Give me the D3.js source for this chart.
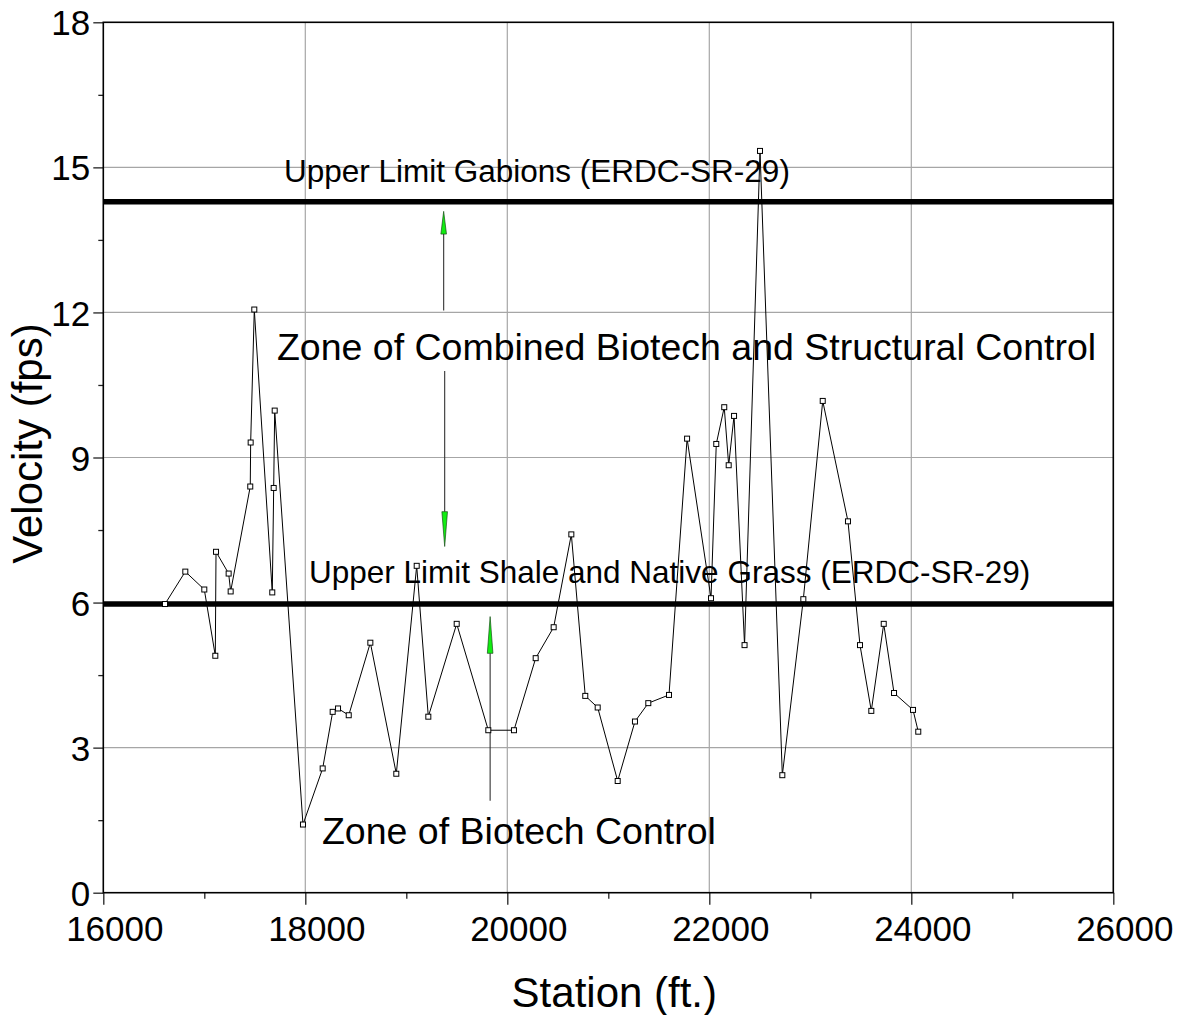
<!DOCTYPE html>
<html>
<head>
<meta charset="utf-8">
<script src="https://d3js.org/d3.v7.min.js"></script>
<style>
  body { margin: 0; background: #fff; }
  text { font-family: "Liberation Sans", Arial, Helvetica, sans-serif; fill: #000; }
</style>
</head>
<body>
<div id="vis"></div>
<script>
// station (ft.) and velocity (fps)
var stations = [16611, 16812, 17000, 17109, 17116, 17241, 17261, 17455, 17459, 17495,
  17673, 17687, 17697, 17977, 18172, 18271, 18324, 18430, 18644, 18901,
  19103, 19218, 19499, 19812, 20066, 20281, 20459, 20634, 20772, 20895,
  21093, 21264, 21396, 21601, 21780, 22017, 22069, 22148, 22192, 22245,
  22349, 22502, 22723, 22931, 23123, 23373, 23492, 23604, 23727, 23829,
  24017, 24069];
var velocities = [5.97, 6.64, 6.27, 4.90, 7.05, 6.60, 6.23, 8.40, 9.31, 12.06,
  6.21, 8.37, 9.97, 1.41, 2.57, 3.74, 3.81, 3.67, 5.17, 2.46,
  6.76, 3.64, 5.56, 3.36, 3.36, 4.85, 5.49, 7.41, 4.07, 3.83,
  2.31, 3.54, 3.92, 4.09, 9.39, 6.09, 9.28, 10.04, 8.84, 9.86,
  5.12, 15.34, 2.43, 6.07, 10.17, 7.68, 5.12, 3.76, 5.56, 4.13,
  3.78, 3.33];

// limits from ERDC-SR-29
var limitValues = [14.29, 5.97];
var limitLabels = ["Upper Limit Gabions (ERDC-SR-29)", "Upper Limit Shale and Native Grass (ERDC-SR-29)"];
var limitLabelStation = [17789, 18036];
var limitLabelVelocity = [14.7, 6.41];

// zone labels
var zoneLabels = ["Zone of Combined Biotech and Structural Control", "Zone of Biotech Control"];
var zoneLabelStation = [17719, 18165];
var zoneLabelVelocity = [11.01, 1.01];

// green arrows: station, tail, head base, tip
var arrowStation = [19370, 19380, 19830];
var arrowTail = [12.04, 10.79, 1.90];
var arrowBase = [13.62, 7.88, 4.95];
var arrowTip = [14.09, 7.16, 5.71];

var xTicks = [16000, 18000, 20000, 22000, 24000, 26000];
var xMinor = [17000, 19000, 21000, 23000, 25000];
var yTicks = [0, 3, 6, 9, 12, 15, 18];
var yMinor = [1.5, 4.5, 7.5, 10.5, 13.5, 16.5];

var data = stations.map(function(s, i) { return { station: s, velocity: velocities[i] }; });

var W = 1182, H = 1015;
var margin = { top: 22.3, right: 68.7, bottom: 122.3, left: 103.3 };
var width = W - margin.left - margin.right,
    height = H - margin.top - margin.bottom;

var svg = d3.select("#vis").append("svg")
  .attr("width", W)
  .attr("height", H)
  .append("g")
  .attr("transform", "translate(" + margin.left + "," + margin.top + ")");

var x = d3.scaleLinear().domain([16000, 26000]).range([0, width]);
var y = d3.scaleLinear().domain([0, 18]).range([height, 0]);

// grid
svg.append("g").selectAll("line").data(xTicks.slice(1, -1)).join("line")
  .attr("x1", function(d) { return x(d); }).attr("x2", function(d) { return x(d); })
  .attr("y1", 0).attr("y2", height)
  .attr("stroke", "#a6a6a6").attr("stroke-width", 1.2);
svg.append("g").selectAll("line").data(yTicks.slice(1, -1)).join("line")
  .attr("y1", function(d) { return y(d); }).attr("y2", function(d) { return y(d); })
  .attr("x1", 0).attr("x2", width)
  .attr("stroke", "#a6a6a6").attr("stroke-width", 1.2);

// axes
var xAxis = svg.append("g")
  .attr("transform", "translate(0," + height + ")")
  .call(d3.axisBottom(x).tickValues(xTicks).tickFormat(d3.format("d")).tickSize(12).tickPadding(11.5));
var xMinorAxis = svg.append("g")
  .attr("transform", "translate(0," + height + ")")
  .call(d3.axisBottom(x).tickValues(xMinor).tickFormat("").tickSize(6));
var yAxis = svg.append("g")
  .call(d3.axisLeft(y).tickValues(yTicks).tickSize(10).tickPadding(3));
var yMinorAxis = svg.append("g")
  .call(d3.axisLeft(y).tickValues(yMinor).tickFormat("").tickSize(5));

[xAxis, xMinorAxis, yAxis, yMinorAxis].forEach(function(a) {
  a.select(".domain").remove();
  a.selectAll("line").attr("stroke", "#222").attr("stroke-width", 1.3);
});
// labels sit a little right of their ticks in the original
xAxis.selectAll("text").style("font-size", "35px").attr("dy", "0.71em").attr("dx", 11);
yAxis.selectAll("text").style("font-size", "35px").attr("dy", "0.36em");

// frame
svg.append("rect")
  .attr("width", width).attr("height", height)
  .attr("fill", "none").attr("stroke", "#000").attr("stroke-width", 1.6);

// limit lines
svg.append("g").selectAll("line").data(limitValues).join("line")
  .attr("x1", 0).attr("x2", width)
  .attr("y1", function(d) { return y(d); }).attr("y2", function(d) { return y(d); })
  .attr("stroke", "#000").attr("stroke-width", 5.5);

// limit labels
svg.append("g").selectAll("text").data(limitLabels).join("text")
  .attr("x", function(d, i) { return x(limitLabelStation[i]); })
  .attr("y", function(d, i) { return y(limitLabelVelocity[i]); })
  .style("font-size", "31.5px")
  .text(function(d) { return d; });

// zone labels
svg.append("g").selectAll("text").data(zoneLabels).join("text")
  .attr("x", function(d, i) { return x(zoneLabelStation[i]); })
  .attr("y", function(d, i) { return y(zoneLabelVelocity[i]); })
  .style("font-size", "37.5px")
  .text(function(d) { return d; });

// arrows
var arrows = svg.append("g");
arrowStation.forEach(function(s, i) {
  var ax = x(s);
  arrows.append("line")
    .attr("x1", ax).attr("x2", ax)
    .attr("y1", y(arrowTail[i])).attr("y2", y(arrowBase[i]))
    .attr("stroke", "#333").attr("stroke-width", 1.1);
  arrows.append("path")
    .attr("d", "M" + (ax - 2.8) + "," + y(arrowBase[i]) +
      "L" + ax + "," + y(arrowTip[i]) +
      "L" + (ax + 2.8) + "," + y(arrowBase[i]) + "Z")
    .attr("fill", "#11ee11").attr("stroke", "#1a4d1a").attr("stroke-width", 0.7);
});

// velocity profile
svg.append("path")
  .datum(data)
  .attr("fill", "none")
  .attr("stroke", "#000")
  .attr("stroke-width", 1)
  .attr("d", d3.line()
    .x(function(d) { return x(d.station); })
    .y(function(d) { return y(d.velocity); }));

svg.append("g").selectAll("rect").data(data).join("rect")
  .attr("x", function(d) { return x(d.station) - 2.5; })
  .attr("y", function(d) { return y(d.velocity) - 2.5; })
  .attr("width", 5).attr("height", 5)
  .attr("fill", "#fff").attr("stroke", "#000").attr("stroke-width", 1);

// axis titles
svg.append("text")
  .attr("text-anchor", "middle")
  .attr("x", width / 2 + 6)
  .attr("y", height + 114)
  .style("font-size", "42px")
  .text("Station (ft.)");

svg.append("text")
  .attr("text-anchor", "middle")
  .attr("transform", "translate(" + (-61) + "," + (height / 2 - 14) + ") rotate(-90)")
  .style("font-size", "42px")
  .text("Velocity (fps)");
</script>
</body>
</html>
